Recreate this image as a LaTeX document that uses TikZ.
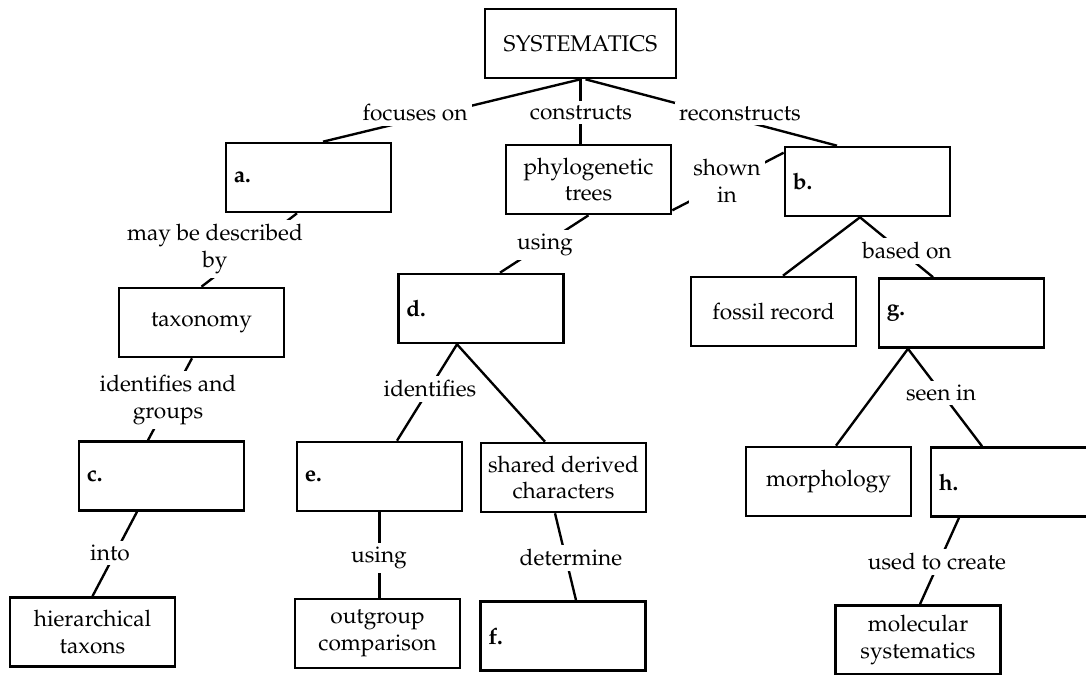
\documentclass[tikz,border=0pt]{standalone}
\usepackage[T1]{fontenc}
\usepackage{mathpazo}
\usetikzlibrary{calc}
\tikzset{
  box/.style={draw, line width=1.5pt, minimum width=3.3cm, minimum height=1.38cm,
    align=center, inner sep=2pt, font=\fontsize{12.9}{15}\selectfont},
  tag/.style={anchor=west, inner sep=5pt, font=\fontsize{12.9}{15}\selectfont\bfseries},
  lbl/.style={fill=white, inner sep=2.5pt, align=center, font=\fontsize{12.9}{15}\selectfont},
  link/.style={line width=1.35pt}
}
\begin{document}
\begin{tikzpicture}[x=0.02cm, y=-0.02cm]
 \useasboundingbox (0,0) rectangle (1086,675);
 \node[box, minimum width=3.82cm] (sys) at (580.5,43.5) {SYSTEMATICS};
 \node[box, label={[tag]west:a.}] (a) at (308.5,177.5) {};
 \node[box] (phy) at (588.5,179.5) {phylogenetic\\trees};
 \node[box, label={[tag]west:b.}] (b) at (867.5,181.5) {};
 \node[box] (tax) at (201.5,322.5) {taxonomy};
 \node[box, label={[tag]west:d.}] (d) at (481,308.5) {};
 \node[box] (fos) at (773.5,311.5) {fossil record};
 \node[box, label={[tag]west:g.}] (g) at (961.5,313) {};
 \node[box, label={[tag]west:c.}] (c) at (161.5,476) {};
 \node[box, label={[tag]west:e.}] (e) at (379.5,476.5) {};
 \node[box] (shr) at (563.5,477.5) {shared derived\\characters};
 \node[box] (mor) at (828.5,481.5) {morphology};
 \node[box, label={[tag]west:h.}] (h) at (1013.5,482) {};
 \node[box] (hie) at (92.5,632) {hierarchical\\taxons};
 \node[box] (out) at (377.5,633.5) {outgroup\\comparison};
 \node[box, label={[tag]west:f.}] (f) at (563,636) {};
 \node[box] (mol) at (918,640) {molecular\\systematics};

 \draw[link] (sys.south) -- ($(a.north)+(14.5,0)$);
 \draw[link] (sys.south) -- (sys.south |- phy.north);
 \draw[link] ($(sys.south)+(5,0)$) -- ($(b.north)+(-30.5,0)$);
 \draw[link] ($(phy.south east)+(0,-5)$) -- ($(b.north west)+(0,7)$);
 \draw[link] (phy.south) -- ($(d.north)+(19,0)$);
 \draw[link] ($(a.south)+(-11.5,0)$) -- (tax.north);
 \draw[link] ($(tax.south)+(-9.5,0)$) -- ($(c.north)+(-13.5,0)$);
 \draw[link] ($(c.south)+(-24.5,0)$) -- (hie.north);
 \draw[link] ($(d.south)+(-24,0)$) coordinate (dd) -- ($(e.north)+(17.5,0)$);
 \draw[link] (dd) -- ($(shr.north)+(-18.5,0)$);
 \draw[link] (e.south) -- (e.south |- out.north);
 \draw[link] ($(shr.south)+(-8.5,0)$) -- ($(f.north)+(13,0)$);
 \draw[link] ($(b.south)+(-7.5,0)$) coordinate (bb) -- ($(fos.north)+(9.5,0)$);
 \draw[link] (bb) -- ($(g.north)+(-28.5,0)$);
 \draw[link] ($(g.south)+(-53.5,0)$) coordinate (gg) -- ($(mor.north)+(7.5,0)$);
 \draw[link] (gg) -- ($(h.north)+(-31.5,0)$);
 \draw[link] ($(h.south)+(-54.5,0)$) -- ($(mol.north)+(2,0)$);

 \node[lbl] (lfoc) at (415,113) {focuses on};
 \node[lbl] (lcon) at (581,113) {constructs};
 \node[lbl] (lrec) at (740,114) {reconstructs};
 \node[lbl] (lshw) at (727,181) {shown\\in};
 \node[lbl] (lusa) at (545,245) {using};
 \node[lbl] (ldes) at (215,249) {may be described\\by};
 \node[lbl] (lgrp) at (168,400) {identifies and\\groups};
 \node[lbl] (lidf) at (430,389) {identifies};
 \node[lbl] (lbas) at (907,251) {based on};
 \node[lbl] (lsee) at (941,393) {seen in};
 \node[lbl] (lint) at (110,553) {into};
 \node[lbl] (lusb) at (379,558) {using};
 \node[lbl] (ldet) at (571,558) {determine};
 \node[lbl] (lcre) at (937,562) {used to create};
\end{tikzpicture}
\end{document}
